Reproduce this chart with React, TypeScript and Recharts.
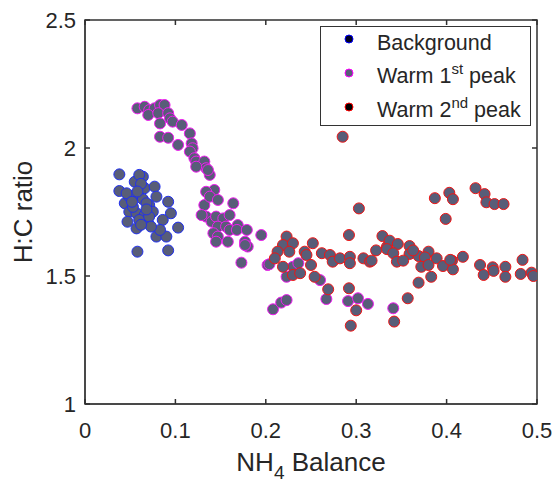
import { ScatterChart, Scatter, XAxis, YAxis, Label, ReferenceLine, ReferenceArea } from 'recharts';

const xTicks = [0, 0.1, 0.2, 0.3, 0.4, 0.5];
const yTicks = [1, 1.5, 2, 2.5];

// [NH4 balance, H:C ratio]
const background = [
    [0.038, 1.897], [0.038, 1.832], [0.055, 1.868], [0.064, 1.888], [0.060, 1.895], [0.066, 1.843],
    [0.077, 1.849], [0.079, 1.810], [0.044, 1.784], [0.049, 1.810], [0.055, 1.816], [0.064, 1.800],
    [0.071, 1.777], [0.049, 1.751], [0.057, 1.745], [0.066, 1.738], [0.075, 1.751], [0.092, 1.790],
    [0.095, 1.745], [0.086, 1.719], [0.103, 1.689], [0.047, 1.712], [0.057, 1.686], [0.070, 1.706],
    [0.079, 1.654], [0.090, 1.654], [0.083, 1.680], [0.058, 1.595], [0.092, 1.600], [0.053, 1.770],
    [0.060, 1.719], [0.071, 1.732], [0.046, 1.823], [0.068, 1.784], [0.073, 1.693], [0.062, 1.860],
    [0.058, 1.830], [0.068, 1.760], [0.052, 1.790], [0.062, 1.700],
];

const warmFirst = [
    [0.058, 2.155], [0.066, 2.161], [0.071, 2.148], [0.077, 2.155], [0.083, 2.168], [0.088, 2.168],
    [0.070, 2.129], [0.081, 2.136], [0.092, 2.136], [0.094, 2.116], [0.083, 2.096], [0.097, 2.103],
    [0.107, 2.090], [0.083, 2.044], [0.092, 2.040], [0.103, 2.012], [0.116, 2.057], [0.118, 2.018],
    [0.119, 1.999], [0.116, 1.986], [0.121, 1.960], [0.123, 1.947], [0.132, 1.947], [0.134, 1.921],
    [0.123, 1.927], [0.138, 1.895], [0.136, 1.914], [0.143, 1.836], [0.134, 1.829], [0.132, 1.777],
    [0.138, 1.810], [0.147, 1.797], [0.134, 1.732], [0.129, 1.738], [0.140, 1.712], [0.145, 1.732],
    [0.153, 1.725], [0.160, 1.738], [0.164, 1.784], [0.147, 1.693], [0.142, 1.667], [0.156, 1.693],
    [0.160, 1.680], [0.169, 1.699], [0.168, 1.680], [0.179, 1.680], [0.177, 1.634], [0.158, 1.634],
    [0.147, 1.654], [0.180, 1.615], [0.195, 1.660], [0.173, 1.552], [0.202, 1.543], [0.145, 1.634],
    [0.177, 1.621], [0.204, 1.546], [0.223, 1.497], [0.230, 1.536], [0.236, 1.550], [0.260, 1.484],
    [0.208, 1.370], [0.217, 1.396], [0.223, 1.406], [0.267, 1.410], [0.291, 1.402], [0.302, 1.413],
    [0.313, 1.391], [0.341, 1.374],
];

const warmSecond = [
    [0.223, 1.654], [0.219, 1.621], [0.230, 1.628], [0.213, 1.595], [0.226, 1.595], [0.210, 1.569],
    [0.219, 1.536], [0.243, 1.595], [0.245, 1.582], [0.252, 1.628], [0.262, 1.589], [0.271, 1.582],
    [0.274, 1.556], [0.282, 1.569], [0.293, 1.575], [0.293, 1.550], [0.308, 1.569], [0.250, 1.543],
    [0.230, 1.504], [0.238, 1.511], [0.254, 1.497], [0.269, 1.448], [0.292, 1.660], [0.292, 1.452],
    [0.300, 1.366], [0.294, 1.306], [0.285, 2.044], [0.303, 1.764], [0.315, 1.556], [0.334, 1.614],
    [0.329, 1.656], [0.337, 1.638], [0.346, 1.625], [0.334, 1.605], [0.341, 1.589], [0.359, 1.617],
    [0.359, 1.586], [0.369, 1.578], [0.380, 1.595], [0.376, 1.573], [0.389, 1.569], [0.345, 1.556],
    [0.352, 1.560], [0.372, 1.536], [0.380, 1.543], [0.396, 1.539], [0.406, 1.560], [0.407, 1.526],
    [0.418, 1.575], [0.383, 1.497], [0.369, 1.474], [0.357, 1.413], [0.342, 1.322], [0.317, 1.560],
    [0.387, 1.804], [0.403, 1.825], [0.407, 1.800], [0.399, 1.723], [0.432, 1.843], [0.442, 1.820],
    [0.444, 1.788], [0.453, 1.781], [0.463, 1.781], [0.437, 1.543], [0.441, 1.504], [0.451, 1.534],
    [0.452, 1.520], [0.465, 1.536], [0.465, 1.497], [0.484, 1.563], [0.482, 1.508], [0.494, 1.513],
    [0.496, 1.500], [0.404, 1.563], [0.363, 1.600], [0.322, 1.600],
];

const toPoints = (pairs: number[][]) => pairs.map(([x, y]) => ({ x, y }));

const FONT = '"Liberation Sans", Arial, sans-serif';
const INK = '#262626';
const AXIS = '#303030';
const FILL = '#585d78';
const TICK_LEN = 5;
const LW = 1.5;

const dot = (edge: string) => (props: any) => (
    <circle cx={props.cx} cy={props.cy} r={5.5} fill={FILL} stroke={edge} strokeWidth={1} />
);

// inward tick stubs at both ends of a reference line (MATLAB box style)
const vStubs = (p: any) => (
    <g>
        <line x1={p.x1} x2={p.x1} y1={Math.min(p.y1, p.y2)} y2={Math.min(p.y1, p.y2) + TICK_LEN} stroke={AXIS} strokeWidth={LW} />
        <line x1={p.x1} x2={p.x1} y1={Math.max(p.y1, p.y2)} y2={Math.max(p.y1, p.y2) - TICK_LEN} stroke={AXIS} strokeWidth={LW} />
    </g>
);
const hStubs = (p: any) => (
    <g>
        <line y1={p.y1} y2={p.y1} x1={Math.min(p.x1, p.x2)} x2={Math.min(p.x1, p.x2) + TICK_LEN} stroke={AXIS} strokeWidth={LW} />
        <line y1={p.y1} y2={p.y1} x1={Math.max(p.x1, p.x2)} x2={Math.max(p.x1, p.x2) - TICK_LEN} stroke={AXIS} strokeWidth={LW} />
    </g>
);

const tickStyle = { fill: INK, fontSize: 22, fontFamily: FONT };

const LegendBox = () => {
    const sup = { fontSize: 15, verticalAlign: 0, position: 'relative' as const, top: -9 };
    const rows = [
        { edge: '#0000ff', fill: '#000022', label: <>Background</> },
        { edge: '#ff00ff', fill: FILL, label: <>Warm 1<sup style={sup}>st</sup> peak</> },
        { edge: '#ff0000', fill: '#000000', label: <>Warm 2<sup style={sup}>nd</sup> peak</> },
    ];
    return (
        <div style={{
            position: 'absolute', left: 320, top: 26, width: 211, height: 100,
            border: '1px solid #333', background: 'white', fontFamily: FONT, fontSize: 21.5, color: INK,
            boxSizing: 'border-box',
        }}>
            {rows.map((r, i) => (
                <div key={i} style={{ position: 'absolute', left: 0, top: 1 + i * 34, height: 30, display: 'flex', alignItems: 'center' }}>
                    <svg width={56} height={30} style={{ flex: 'none' }}>
                        <circle cx={28} cy={11} r={4} fill={r.fill} stroke={r.edge} strokeWidth={1} />
                    </svg>
                    <span style={{ whiteSpace: 'nowrap', lineHeight: '30px' }}>{r.label}</span>
                </div>
            ))}
        </div>
    );
};

export default function App() {
    return (
        <div style={{ position: 'absolute', left: 0, top: 0, width: 558, height: 486, background: 'white' }}>
            <ScatterChart width={558} height={486} margin={{ top: 20, right: 21, bottom: 52, left: 25 }}>
                <XAxis
                    type="number" dataKey="x" domain={[0, 0.5]} ticks={xTicks} allowDataOverflow
                    stroke={AXIS} tick={tickStyle} tickLine={false} tickSize={0} tickMargin={18} height={30}
                >
                    <Label
                        content={(p: any) => {
                            const vb = p.viewBox;
                            return (
                                <text x={vb.x + vb.width / 2} y={vb.y + 67} textAnchor="middle" fill={INK} fontSize={26} fontFamily={FONT}>
                                    NH<tspan fontSize={19} dy={8}>4</tspan><tspan dy={-8}> Balance</tspan>
                                </text>
                            );
                        }}
                    />
                </XAxis>
                <YAxis
                    type="number" dataKey="y" domain={[1, 2.5]} ticks={yTicks} allowDataOverflow
                    stroke={AXIS} tick={tickStyle} tickLine={false} tickSize={0} tickMargin={9} width={60}
                >
                    <Label
                        content={(p: any) => {
                            const vb = p.viewBox;
                            const cy = vb.y + vb.height / 2;
                            return (
                                <text x={32} y={cy} transform={`rotate(-90 32 ${cy})`} textAnchor="middle" fill={INK} fontSize={26} fontFamily={FONT}>
                                    H:C ratio
                                </text>
                            );
                        }}
                    />
                </YAxis>
                <ReferenceArea x1={0} x2={0.5} y1={1} y2={2.5} fill="none" stroke={AXIS} strokeWidth={LW} strokeOpacity={1} ifOverflow="visible" />
                {xTicks.map((t) => <ReferenceLine key={`x${t}`} x={t} shape={vStubs} ifOverflow="visible" />)}
                {yTicks.map((t) => <ReferenceLine key={`y${t}`} y={t} shape={hStubs} ifOverflow="visible" />)}
                <Scatter name="Background" data={toPoints(background)} shape={dot('#1f2ff0')} isAnimationActive={false} />
                <Scatter name="Warm 1st peak" data={toPoints(warmFirst)} shape={dot('#f01cf0')} isAnimationActive={false} />
                <Scatter name="Warm 2nd peak" data={toPoints(warmSecond)} shape={dot('#f01414')} isAnimationActive={false} />
            </ScatterChart>
            <LegendBox />
        </div>
    );
}
